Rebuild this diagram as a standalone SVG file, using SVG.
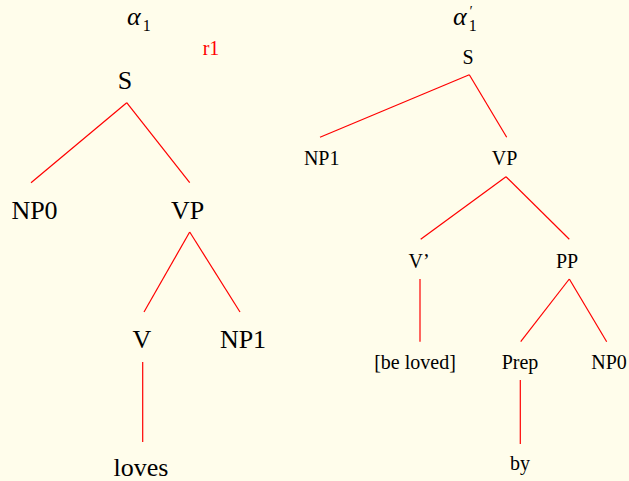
<svg xmlns="http://www.w3.org/2000/svg" width="629" height="481" viewBox="0 0 629 481">
  <style>
    text { font-family: "Liberation Serif", "DejaVu Serif", "Noto Serif", serif; fill: #000; text-anchor: middle; }
    .big { font-size: 26px; }
    .small { font-size: 20px; }
    .greek { font-size: 26px; font-style: italic; text-anchor: start; }
    .sub { font-size: 16px; font-style: normal; }
    .red { fill: #ff0000; }
    .edge { stroke: #ff0000; stroke-width: 1.2; fill: none; }
  </style>
  <rect x="0" y="0" width="629" height="481" fill="#fffdeb"/>

  <!-- tree titles -->
  <g id="title-left">
    <text class="greek" x="127" y="25">α<tspan class="sub" dx="2" dy="6">1</tspan></text>
  </g>
  <text class="small red" x="211" y="55">r1</text>
  <g id="title-right">
    <text class="greek" x="453" y="25">α<tspan class="sub" dx="2" dy="6">1</tspan><tspan style="font-size:14px" dx="-8" dy="-15">′</tspan></text>
  </g>

  <!-- connectors -->
  <g id="connectors">
    <line class="edge" x1="126.7" y1="102.7" x2="31" y2="182.7"/>
    <line class="edge" x1="126.7" y1="102.7" x2="189.7" y2="182.7"/>
    <line class="edge" x1="189.7" y1="232" x2="144" y2="312"/>
    <line class="edge" x1="189.7" y1="232" x2="240" y2="312"/>
    <line class="edge" x1="142.7" y1="362" x2="142.7" y2="442"/>

    <line class="edge" x1="469.3" y1="74.7" x2="320" y2="137.3"/>
    <line class="edge" x1="469.3" y1="74.7" x2="506.7" y2="137.3"/>
    <line class="edge" x1="506" y1="176.7" x2="420.7" y2="239.3"/>
    <line class="edge" x1="506" y1="176.7" x2="569.3" y2="239.3"/>
    <line class="edge" x1="420" y1="279" x2="420" y2="341.7"/>
    <line class="edge" x1="569.3" y1="279" x2="520.7" y2="341.7"/>
    <line class="edge" x1="569.3" y1="279" x2="606.7" y2="341.7"/>
    <line class="edge" x1="520.3" y1="380" x2="520.3" y2="444"/>
  </g>

  <!-- left tree -->
  <g id="l-S"><text class="big" x="125" y="89">S</text></g>
  <g id="l-NP0"><text class="big" x="34.5" y="219">NP0</text></g>
  <g id="l-VP"><text class="big" x="187.5" y="219">VP</text></g>
  <g id="l-V"><text class="big" x="142" y="348">V</text></g>
  <g id="l-NP1"><text class="big" x="243" y="348">NP1</text></g>
  <g id="l-loves"><text class="big" x="141" y="476">loves</text></g>

  <!-- right tree -->
  <g id="r-S"><text class="small" x="468" y="64">S</text></g>
  <g id="r-NP1"><text class="small" x="321.7" y="165">NP1</text></g>
  <g id="r-VP"><text class="small" x="504.5" y="165">VP</text></g>
  <g id="r-V1"><text class="small" x="419" y="268">V’</text></g>
  <g id="r-PP"><text class="small" x="567" y="268">PP</text></g>
  <g id="r-beloved"><text class="small" x="415" y="369">[be loved]</text></g>
  <g id="r-Prep"><text class="small" x="520" y="369">Prep</text></g>
  <g id="r-NP0"><text class="small" x="609" y="369">NP0</text></g>
  <g id="r-by"><text class="small" x="520" y="470">by</text></g>
</svg>
